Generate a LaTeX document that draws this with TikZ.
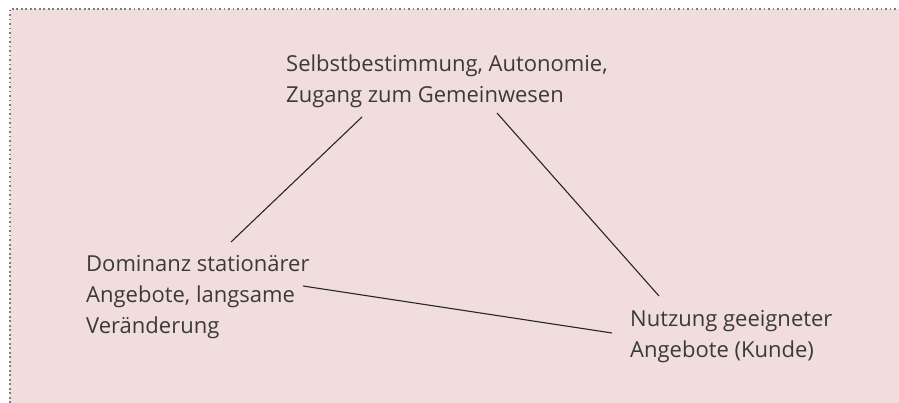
\documentclass[tikz,border=0pt]{standalone}
\usepackage{fontspec}
\setmainfont{Open Sans}
\usetikzlibrary{positioning}

\definecolor{boxfill}{RGB}{242,221,221}
\definecolor{txtgray}{RGB}{58,58,58}
\definecolor{dotgray}{RGB}{125,125,125}

\begin{document}
\begin{tikzpicture}[
  x=1pt,y=-1pt,
  font=\fontsize{22}{31}\selectfont,
  lbl/.style={inner sep=0pt,align=left,text=txtgray,anchor=base west},
  link/.style={line width=1.1pt,draw=black!85}
]
\useasboundingbox (0,0) rectangle (899,403);

% Hintergrund mit gepunktetem Rand oben und links
\fill[boxfill] (10,9) rectangle (899,403);
\draw[dotgray,line width=2pt,dash pattern=on 1.6pt off 2.9pt] (10,403) -- (10,9) -- (899,9);

% base west = Grundlinie der letzten Zeile
\node[lbl] (selbst) at (286,103) {Selbstbestimmung, Autonomie,\\Zugang zum Gemeinwesen};
\node[lbl] (dominanz) at (86,333) {Dominanz stationärer\\Angebote, langsame\\Veränderung};
\node[lbl] (nutzung) at (630,357) {Nutzung geeigneter\\Angebote (Kunde)};

\draw[link] ([xshift=145pt,yshift=91pt]dominanz.base west) -- ([xshift=76pt,yshift=-14pt]selbst.base west);
\draw[link] ([xshift=211pt,yshift=-10pt]selbst.base west) -- ([xshift=29pt,yshift=61pt]nutzung.base west);
\draw[link] ([xshift=217pt,yshift=47pt]dominanz.base west) -- ([xshift=-18pt,yshift=24pt]nutzung.base west);

\end{tikzpicture}
\end{document}
